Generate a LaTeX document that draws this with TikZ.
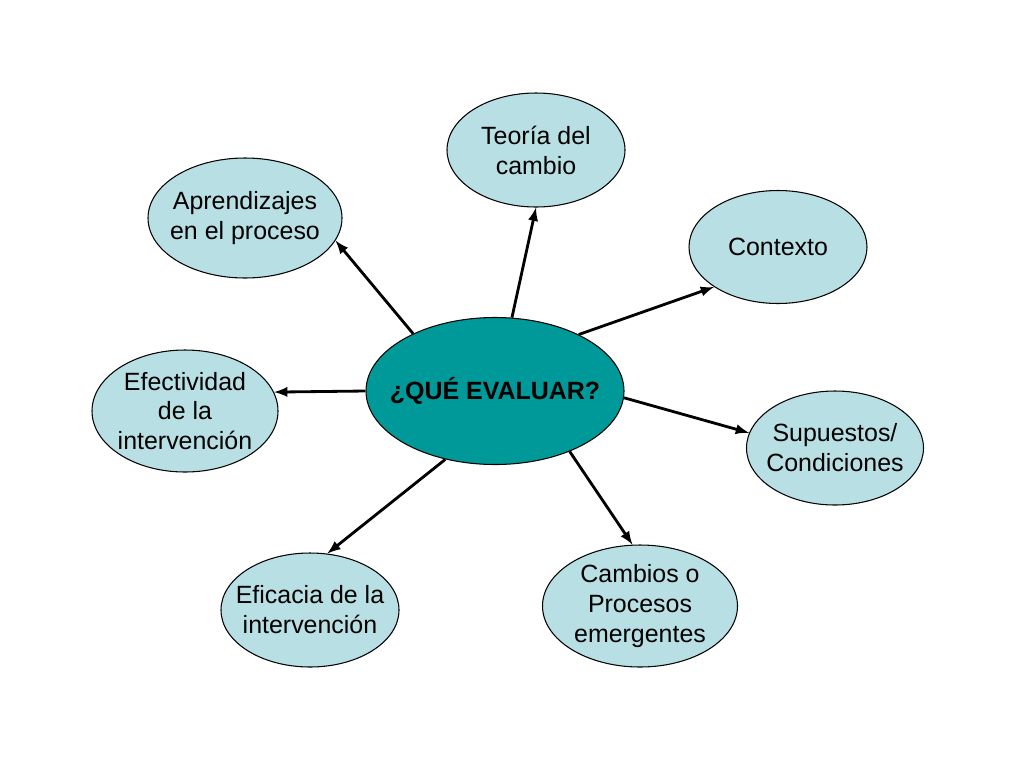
\documentclass[tikz,border=0pt]{standalone}
\usepackage{fontspec}
\setmainfont{Liberation Sans}
\usepackage{tikz}
\usetikzlibrary{shapes.geometric, arrows}
\definecolor{tealdark}{RGB}{0,153,153}
\definecolor{tealpale}{RGB}{184,224,228}
\tikzstyle{idea} = [ellipse, draw=black, line width=0.6pt, fill=tealpale, inner sep=-9pt, align=center, font=\fontsize{14.2}{17}\selectfont]

\begin{document}
\begin{tikzpicture}[x=0.02cm, y=-0.02cm, >=latex]
            \tikzstyle{core} = [idea, fill=tealdark, minimum width=258*0.02cm, minimum height=147*0.02cm, font=\fontsize{14.2}{17}\selectfont\bfseries]
            \tikzstyle{link} = [->, line width=1.6pt]

            \useasboundingbox (0,0) rectangle (1024,768);

            \node[core] (que) at (495,391) {¿QUÉ EVALUAR?};

            \node[idea, minimum width=178*0.02cm, minimum height=114*0.02cm] (teoria) at (536,150) {Teoría del\\cambio};
            \node[idea, minimum width=194*0.02cm, minimum height=120*0.02cm] (aprendizajes) at (245,218) {Aprendizajes\\en el proceso};
            \node[idea, minimum width=178*0.02cm, minimum height=113*0.02cm] (contexto) at (778,247) {Contexto};
            \node[idea, minimum width=186*0.02cm, minimum height=122*0.02cm] (efectividad) at (185,411) {Efectividad\\de la\\intervención};
            \node[idea, minimum width=177*0.02cm, minimum height=114*0.02cm] (supuestos) at (835,448) {Supuestos/\\Condiciones};
            \node[idea, minimum width=178*0.02cm, minimum height=114*0.02cm] (eficacia) at (310,610) {Eficacia de la\\intervención};
            \node[idea, minimum width=195*0.02cm, minimum height=122*0.02cm] (cambios) at (640,606) {Cambios o\\Procesos\\emergentes};

            \draw[link] (que.145) -- (aprendizajes.-14);
            \draw[link] (que.77) -- (teoria.south);
            \draw[link] (que.34) -- (contexto.212);
            \draw[link] (que.west) -- (efectividad.12);
            \draw[link] (que.-3) -- (supuestos.170);
            \draw[link] (que.-126) -- (eficacia.73);
            \draw[link] (que.-39) -- (cambios.97);

        \end{tikzpicture}
\end{document}
